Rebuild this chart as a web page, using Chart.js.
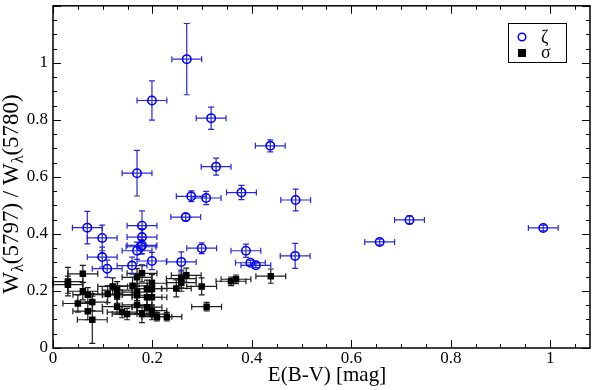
<!DOCTYPE html>
<html>
<head>
<meta charset="utf-8">
<script src="https://cdn.jsdelivr.net/npm/chart.js@4"></script>
<style>
  html, body { margin: 0; padding: 0; background: #fff; }
  #wrap { width: 600px; height: 390px; }
</style>
</head>
<body>
<div id="wrap"><canvas id="grafico" width="600" height="390"></canvas></div>
<script>
  // zeta sight lines (blue open circles)
  const zetaX = [0.269, 0.199, 0.318, 0.437, 0.328, 0.169, 0.278, 0.308, 0.379, 0.488,
                 0.267, 0.717, 0.986, 0.657, 0.069, 0.099, 0.099, 0.109, 0.179, 0.179,
                 0.179, 0.177, 0.169, 0.159, 0.199, 0.258, 0.299, 0.388, 0.397, 0.408, 0.487];
  const zetaY = [1.013, 0.868, 0.806, 0.709, 0.636, 0.613, 0.532, 0.526, 0.545, 0.519,
                 0.459, 0.449, 0.421, 0.372, 0.422, 0.386, 0.319, 0.278, 0.429, 0.389,
                 0.360, 0.355, 0.341, 0.289, 0.305, 0.302, 0.350, 0.341, 0.299, 0.290, 0.323];
  const zetaXErr = [0.03, 0.03, 0.03, 0.03, 0.03, 0.03, 0.03, 0.03, 0.03, 0.03,
                    0.03, 0.03, 0.03, 0.03, 0.03, 0.03, 0.03, 0.03, 0.03, 0.03,
                    0.03, 0.03, 0.03, 0.03, 0.03, 0.03, 0.03, 0.03, 0.03, 0.03, 0.03];
  const zetaYErr = [0.125, 0.069, 0.039, 0.021, 0.030, 0.080, 0.019, 0.023, 0.025, 0.038,
                    0.012, 0.014, 0.010, 0.010, 0.057, 0.045, 0.035, 0.030, 0.052, 0.030,
                    0.030, 0.025, 0.030, 0.030, 0.030, 0.035, 0.019, 0.023, 0.008, 0.008, 0.044];

  // sigma sight lines (black filled squares)
  const sigmaX = [0.030, 0.030, 0.060, 0.060, 0.070, 0.050, 0.079, 0.070, 0.079, 0.110,
                  0.120, 0.129, 0.129, 0.129, 0.139, 0.149, 0.160, 0.169, 0.179, 0.169,
                  0.169, 0.169, 0.179, 0.189, 0.199, 0.199, 0.189, 0.199, 0.189, 0.199,
                  0.199, 0.209, 0.229, 0.248, 0.258, 0.258, 0.268, 0.299, 0.309, 0.358,
                  0.368, 0.438];
  const sigmaY = [0.233, 0.222, 0.260, 0.199, 0.187, 0.156, 0.161, 0.129, 0.099, 0.189,
                  0.216, 0.203, 0.187, 0.145, 0.126, 0.119, 0.218, 0.248, 0.262, 0.196,
                  0.185, 0.151, 0.119, 0.208, 0.227, 0.208, 0.178, 0.178, 0.143, 0.131,
                  0.119, 0.110, 0.110, 0.209, 0.229, 0.243, 0.255, 0.216, 0.145, 0.234,
                  0.241, 0.252];
  const sigmaXErr = [0.03, 0.03, 0.03, 0.03, 0.03, 0.03, 0.03, 0.03, 0.03, 0.03,
                     0.03, 0.03, 0.03, 0.03, 0.03, 0.03, 0.03, 0.03, 0.03, 0.03,
                     0.03, 0.03, 0.03, 0.03, 0.03, 0.03, 0.03, 0.03, 0.03, 0.03,
                     0.03, 0.03, 0.03, 0.03, 0.03, 0.03, 0.03, 0.03, 0.03, 0.03,
                     0.03, 0.03];
  const sigmaYErr = [0.050, 0.030, 0.030, 0.030, 0.025, 0.030, 0.030, 0.030, 0.083, 0.030,
                     0.030, 0.030, 0.030, 0.025, 0.020, 0.020, 0.030, 0.030, 0.030, 0.030,
                     0.030, 0.030, 0.030, 0.030, 0.030, 0.030, 0.030, 0.030, 0.030, 0.020,
                     0.020, 0.015, 0.015, 0.030, 0.030, 0.030, 0.025, 0.030, 0.015, 0.015,
                     0.015, 0.025];

  const xTickLabels = ['0', '0.2', '0.4', '0.6', '0.8', '1'];
  const yTickLabels = ['0', '0.2', '0.4', '0.6', '0.8', '1'];
  const legendLabels = ['ζ', 'σ'];

  const SERIF = '"Liberation Serif", "DejaVu Serif", serif';
  const AZUL = 'rgb(0,0,255)';
  const AZUL_BARRA = 'rgb(40,40,210)';
  const PRETO = '#000';
  const PRETO_BARRA = 'rgb(30,30,30)';

  function pontos(xs, ys) {
    return xs.map((x, i) => ({ x: x, y: ys[i] }));
  }

  const erros = [
    { xe: zetaXErr, ye: zetaYErr, cor: AZUL_BARRA },
    { xe: sigmaXErr, ye: sigmaYErr, cor: PRETO_BARRA }
  ];

  // error bars, drawn under each dataset's markers
  const barrasErro = {
    id: 'barrasErro',
    beforeDatasetDraw(chart, args) {
      const ctx = chart.ctx;
      const xs = chart.scales.x, ys = chart.scales.y;
      const ds = chart.data.datasets[args.index];
      const e = erros[args.index];
      const cap = 3;
      ctx.save();
      ctx.strokeStyle = e.cor;
      ctx.lineWidth = 1.2;
      ds.data.forEach((p, i) => {
        const px = xs.getPixelForValue(p.x), py = ys.getPixelForValue(p.y);
        const x1 = xs.getPixelForValue(p.x - e.xe[i]), x2 = xs.getPixelForValue(p.x + e.xe[i]);
        const y1 = ys.getPixelForValue(p.y - e.ye[i]), y2 = ys.getPixelForValue(p.y + e.ye[i]);
        ctx.beginPath();
        ctx.moveTo(x1, py); ctx.lineTo(x2, py);
        ctx.moveTo(x1, py - cap); ctx.lineTo(x1, py + cap);
        ctx.moveTo(x2, py - cap); ctx.lineTo(x2, py + cap);
        ctx.moveTo(px, y1); ctx.lineTo(px, y2);
        ctx.moveTo(px - cap, y1); ctx.lineTo(px + cap, y1);
        ctx.moveTo(px - cap, y2); ctx.lineTo(px + cap, y2);
        ctx.stroke();
      });
      ctx.restore();
    }
  };

  // frame, inward ticks, tick labels, titles and legend
  const moldura = {
    id: 'moldura',
    afterDraw(chart) {
      const ctx = chart.ctx;
      const a = chart.chartArea;
      const xs = chart.scales.x, ys = chart.scales.y;
      ctx.save();
      ctx.strokeStyle = '#000';
      ctx.lineWidth = 1.5;
      ctx.strokeRect(a.left, a.top, a.right - a.left, a.bottom - a.top);

      ctx.lineWidth = 1;
      ctx.beginPath();
      for (let k = 0; k * 0.05 <= xs.max + 1e-9; k++) {
        const px = Math.round(xs.getPixelForValue(k * 0.05)) + 0.5;
        const len = (k % 4 === 0) ? 8 : 4;
        ctx.moveTo(px, a.bottom); ctx.lineTo(px, a.bottom - len);
        ctx.moveTo(px, a.top); ctx.lineTo(px, a.top + len);
      }
      for (let k = 0; k * 0.05 <= ys.max + 1e-9; k++) {
        const py = Math.round(ys.getPixelForValue(k * 0.05)) + 0.5;
        const len = (k % 4 === 0) ? 8 : 4;
        ctx.moveTo(a.left, py); ctx.lineTo(a.left + len, py);
        ctx.moveTo(a.right, py); ctx.lineTo(a.right - len, py);
      }
      ctx.stroke();

      // tick labels
      ctx.fillStyle = '#000';
      ctx.font = '17px ' + SERIF;
      ctx.textAlign = 'center';
      ctx.textBaseline = 'top';
      xTickLabels.forEach(t => {
        ctx.fillText(t, xs.getPixelForValue(parseFloat(t)), a.bottom + 2);
      });
      ctx.textAlign = 'right';
      ctx.textBaseline = 'middle';
      yTickLabels.forEach(t => {
        ctx.fillText(t, a.left - 5, ys.getPixelForValue(parseFloat(t)));
      });

      // x title
      ctx.font = '21px ' + SERIF;
      ctx.textAlign = 'center';
      ctx.textBaseline = 'alphabetic';
      ctx.fillText('E(B-V) [mag]', 327, 381);

      // y title with subscripts
      const partes = [['W', 0], ['λ', 1], ['(5797) / W', 0], ['λ', 1], ['(5780)', 0]];
      const fN = '23px ' + SERIF, fS = '16px ' + SERIF;
      let total = 0;
      partes.forEach(p => { ctx.font = p[1] ? fS : fN; total += ctx.measureText(p[0]).width; });
      ctx.translate(18, 194);
      ctx.rotate(-Math.PI / 2);
      ctx.textAlign = 'left';
      let cx = -total / 2;
      partes.forEach(p => {
        ctx.font = p[1] ? fS : fN;
        ctx.fillText(p[0], cx, p[1] ? 5 : 0);
        cx += ctx.measureText(p[0]).width;
      });
      ctx.setTransform(1, 0, 0, 1, 0, 0);

      // legend
      ctx.fillStyle = '#fff';
      ctx.fillRect(508, 23, 58, 39);
      ctx.strokeStyle = '#000';
      ctx.lineWidth = 1;
      ctx.strokeRect(508.5, 23.5, 58, 39);
      ctx.strokeStyle = AZUL;
      ctx.lineWidth = 1.5;
      ctx.beginPath();
      ctx.arc(522, 37, 3.8, 0, Math.PI * 2);
      ctx.stroke();
      ctx.fillStyle = PRETO;
      ctx.fillRect(518, 49, 8, 8);
      ctx.font = '18px ' + SERIF;
      ctx.textAlign = 'left';
      ctx.textBaseline = 'middle';
      ctx.fillText(legendLabels[0], 541, 38);
      ctx.fillText(legendLabels[1], 541, 53);
      ctx.restore();
    }
  };

  const ctx = document.getElementById('grafico').getContext('2d');
  new Chart(ctx, {
    type: 'scatter',
    data: {
      datasets: [{
        label: legendLabels[0],
        data: pontos(zetaX, zetaY),
        pointStyle: 'circle',
        pointRadius: 4.2,
        borderColor: AZUL,
        borderWidth: 1.6,
        backgroundColor: 'rgba(0,0,0,0)'
      }, {
        label: legendLabels[1],
        data: pontos(sigmaX, sigmaY),
        pointStyle: 'rect',
        pointRadius: 4.6,
        borderColor: PRETO,
        borderWidth: 0,
        backgroundColor: PRETO
      }]
    },
    options: {
      responsive: false,
      animation: false,
      layout: { padding: { left: 0, right: 10, top: 5, bottom: 0 } },
      plugins: { legend: { display: false }, tooltip: { enabled: false } },
      scales: {
        x: {
          type: 'linear', min: 0, max: 1.08,
          grid: { display: false }, border: { display: false },
          ticks: { display: false },
          afterFit: s => { s.height = 42; s.paddingLeft = 0; s.paddingRight = 0; }
        },
        y: {
          type: 'linear', min: 0, max: 1.2,
          grid: { display: false }, border: { display: false },
          ticks: { display: false },
          afterFit: s => { s.width = 53; s.paddingTop = 0; s.paddingBottom = 0; }
        }
      }
    },
    plugins: [barrasErro, moldura]
  });
</script>
</body>
</html>
